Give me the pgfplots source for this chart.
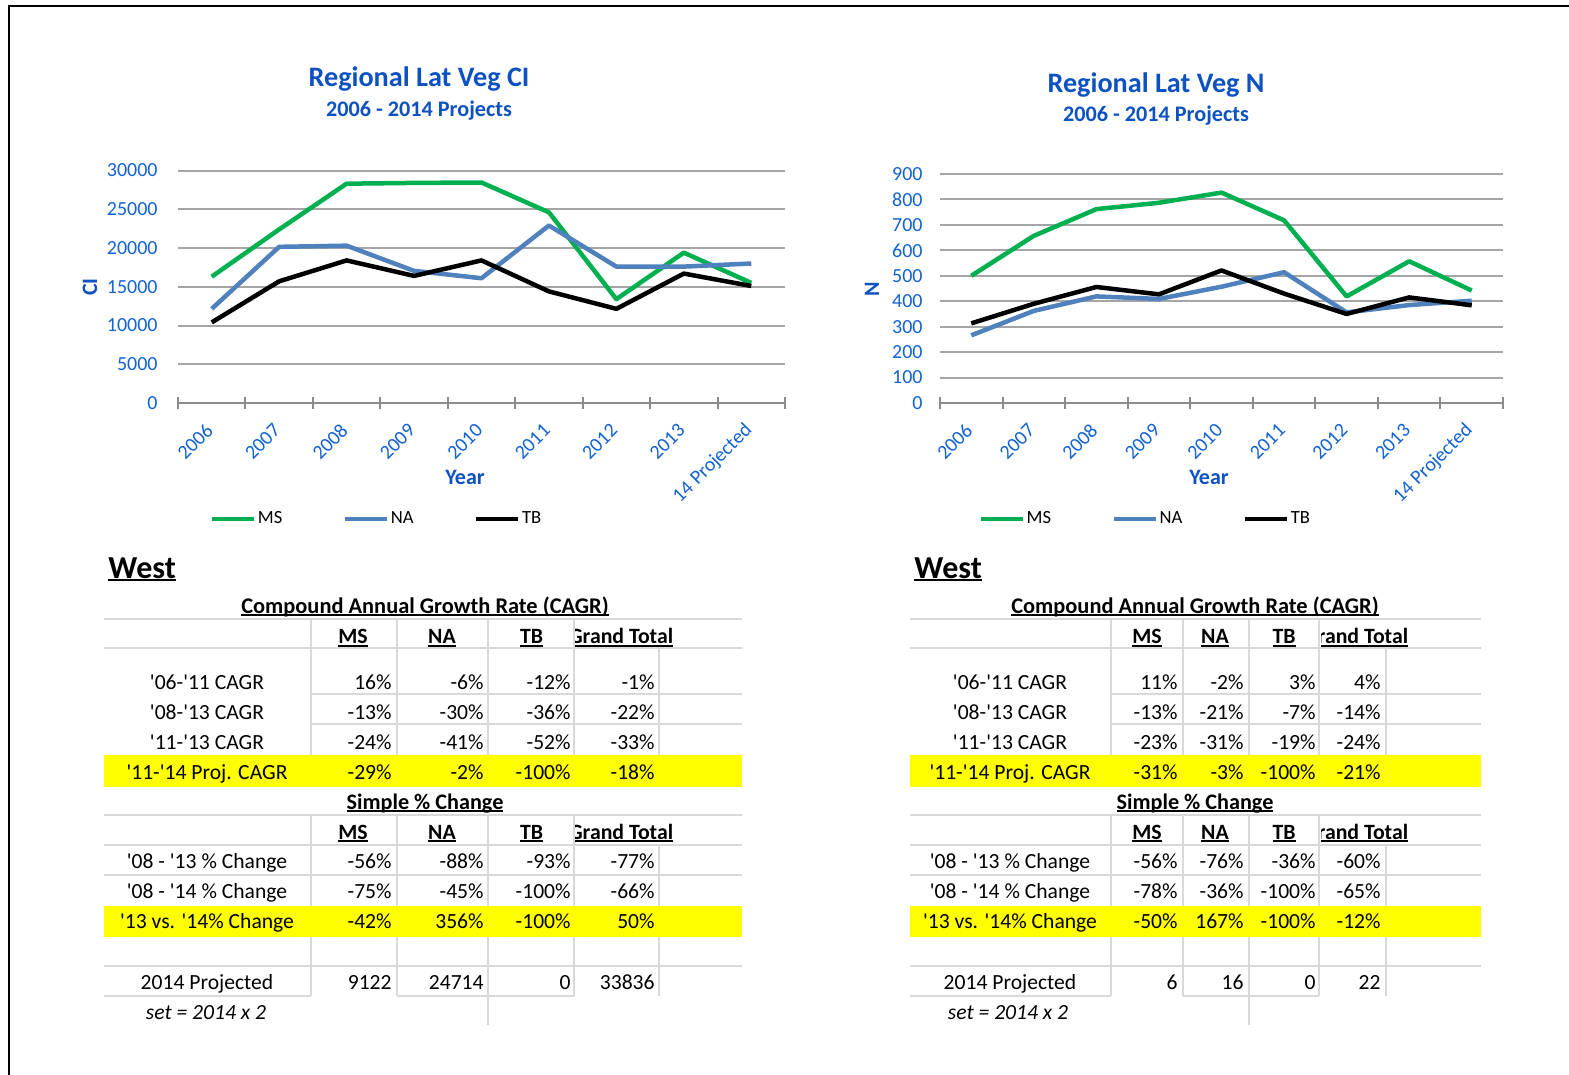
\documentclass[border=0pt]{standalone}
\usepackage{fontspec}
\setmainfont{Carlito}
\usepackage{pgfplots}
\pgfplotsset{compat=1.18}
\definecolor{msgreen}{HTML}{00B050}
\definecolor{nablue}{HTML}{4F81BD}
\definecolor{titleblue}{HTML}{0E52C1}
\definecolor{tickblue}{HTML}{1363D3}
\definecolor{gridgray}{HTML}{A5A5A5}
\definecolor{axgray}{HTML}{8C8C8C}
\definecolor{tblgray}{HTML}{D9D9D9}
\definecolor{hiyellow}{HTML}{FFFF00}

\newcommand\fs[1]{\fontsize{#1}{14}\selectfont}
\newcommand\ul[1]{\setbox0\hbox{#1}\rlap{\rule[-1.6pt]{\wd0}{0.9pt}}\box0}
\newcommand\q{\textquotesingle}

\pgfplotsset{
 chart/.style={
  scale only axis, anchor=south west,
  xmin=-0.5, xmax=8.5, ymin=0,
  axis x line*=bottom, axis y line*=left,
  y axis line style={draw=none},
  x axis line style={-, draw=axgray, line width=1pt},
  ymajorgrids, grid style={draw=gridgray, line width=1pt},
  ytick style={draw=none},
  scaled y ticks=false,
  xtick={0,...,8},
  xticklabels={2006,2007,2008,2009,2010,2011,2012,2013,14 Projected},
  xtick style={draw=axgray, line width=1pt},
  xtick align=center,
  major tick length=0pt,
  extra x ticks={-0.5,0.5,...,8.5},
  extra x tick labels={},
  extra x tick style={major tick length=6pt, xtick align=center},
  tick pos=left,
  /pgf/number format/assume math mode=true,
  /pgf/number format/1000 sep={},
  yticklabel style={font=\fs{10}, text=tickblue, anchor=east, inner sep=0pt},
  xticklabel style={font=\fs{10}, text=tickblue, inner sep=0pt, xshift=-1pt, yshift=-12pt, rotate=45, anchor=east},
  legend columns=3,
  legend style={draw=none, fill=none, inner sep=0pt, font=\fs{9.3}, nodes={inner sep=0.75pt},
    /tikz/every even column/.append style={column sep=29.5pt}},
  legend image code/.code={\draw[##1, line cap=butt] (0pt,0pt) -- (21pt,0pt);},
  every axis plot/.append style={line width=2.25pt, line join=round},
  clip=false,
 }
}

% table helpers
\newcommand\row[6]{%
 \node[anchor=base] at (\LC,#1) {#2};
 \node[anchor=base east] at (\RA,#1) {#3};
 \node[anchor=base east] at (\RB,#1) {#4};
 \node[anchor=base east] at (\RC,#1) {#5};
 \node[anchor=base east] at (\RD,#1) {#6};
}
\newcommand\tablegrid{%
 \fill[hiyellow] (\XA,755) rectangle (\XB,786.5);
 \fill[hiyellow] (\XA,905.5) rectangle (\XB,936.5);
 \begin{scope}[draw=tblgray, line width=1.25pt]
  \foreach \yy in {619,648,815,845,875,966} {\draw (\XA,\yy) -- (\XB,\yy);}
  \draw (\VA,694) -- (\XB,694);
  \draw (\VA,724) -- (\XB,724);
  \draw (\XA,996) -- (\VA,996);
  \draw (\VB,996) -- (\VD,996);
  \foreach \xx in {\VA,\VB,\VC,\VD} {\draw (\xx,619) -- (\xx,648); \draw (\xx,815) -- (\xx,845);}
  \foreach \xx in {\VA,\VB,\VC,\VD,\VE} {\draw (\xx,648) -- (\xx,755); \draw (\xx,845) -- (\xx,905.5); \draw (\xx,936.5) -- (\xx,996);}
  \draw (\VC,996) -- (\VC,1025);
 \end{scope}
 \begin{scope}[every node/.style={inner sep=0pt, font=\fs{10.8}}]
  \node[anchor=base west, font=\bfseries\fs{16}] at (\WX,578) {\ul{West}};
  \node[anchor=base, font=\bfseries\fs{11.2}] at (\TC,613) {\ul{Compound Annual Growth Rate (CAGR)}};
  \node[anchor=base, font=\bfseries\fs{11.1}] at (\TC,809) {\ul{Simple \% Change}};
  \foreach \yy/\cy in {643.5/620, 839/816} {
   \node[anchor=base, font=\bfseries\fs{10.9}] at (\HA,\yy) {\ul{MS}};
   \node[anchor=base, font=\bfseries\fs{10.9}] at (\HB,\yy) {\ul{NA}};
   \node[anchor=base, font=\bfseries\fs{10.9}] at (\HC,\yy) {\ul{TB}};
   \begin{scope}
    \clip (\CL,\cy) rectangle (\XB,\cy+28);
    \node[anchor=base, font=\bfseries\fs{10.9}] at (\HD,\yy) {\ul{Grand Total}};
   \end{scope}
  }
 \end{scope}
}

\begin{document}
\begin{tikzpicture}[x=0.5pt, y=-0.5pt]
\fill[white] (0,0) rectangle (1569,1075);
\draw[line width=1pt, line join=miter] (9,1075) -- (9,6) -- (1569,6);

\coordinate (LA) at (178,403);
\coordinate (RA) at (940,403);

% ---------- left chart ----------
\begin{axis}[chart, at={(LA)}, width=303.5pt, height=116.25pt,
  ymax=30000, ytick={0,5000,...,30000},
  yticklabel style={xshift=-10pt},
  legend style={at={(0.052,-0.499)}, anchor=west}]
\addplot[msgreen] coordinates {(0,16300) (1,22400) (2,28300) (3,28400) (4,28450) (5,24600) (6,13400) (7,19400) (8,15500)};
\addplot[nablue] coordinates {(0,12150) (1,20150) (2,20300) (3,17050) (4,16100) (5,22900) (6,17600) (7,17600) (8,18000)};
\addplot[black] coordinates {(0,10400) (1,15700) (2,18400) (3,16400) (4,18400) (5,14400) (6,12150) (7,16700) (8,15100)};
\legend{MS,NA,TB}
\end{axis}

% ---------- right chart ----------
\begin{axis}[chart, at={(RA)}, width=281.5pt, height=114.5pt,
  ymax=900, ytick={0,100,...,900},
  yticklabel style={xshift=-8.5pt},
  legend style={at={(0.068,-0.506)}, anchor=west}]
\addplot[msgreen] coordinates {(0,500) (1,657) (2,762) (3,787) (4,827) (5,718) (6,419) (7,557) (8,442)};
\addplot[nablue] coordinates {(0,266) (1,362) (2,419) (3,409) (4,457) (5,514) (6,356) (7,385) (8,402)};
\addplot[black] coordinates {(0,313) (1,390) (2,456) (3,427) (4,521) (5,430) (6,350) (7,415) (8,384)};
\legend{MS,NA,TB}
\end{axis}

% chart titles and axis labels
\node[anchor=base, inner sep=0pt, font=\bfseries\fs{14.1}, text=titleblue] at (419,87) {Regional Lat Veg CI};
\node[anchor=base, inner sep=0pt, font=\bfseries\fs{11.1}, text=titleblue] at (419,117) {2006 - 2014 Projects};
\node[anchor=base, inner sep=0pt, font=\bfseries\fs{14.1}, text=titleblue] at (1156,93) {Regional Lat Veg N};
\node[anchor=base, inner sep=0pt, font=\bfseries\fs{11.1}, text=titleblue] at (1156,122) {2006 - 2014 Projects};
\node[inner sep=0pt, font=\bfseries\fs{11}, text=titleblue] at (465,477) {Year};
\node[inner sep=0pt, font=\bfseries\fs{11}, text=titleblue] at (1209,477) {Year};
\node[inner sep=0pt, font=\bfseries\fs{11}, text=titleblue, rotate=90] at (90,287) {CI};
\node[inner sep=0pt, font=\bfseries\fs{11}, text=titleblue, rotate=90] at (872,289) {N};

% ---------- left table ----------
\def\XA{104}\def\XB{742}\def\VA{311}\def\VB{397}\def\VC{488}\def\VD{574}\def\VE{659}
\def\LC{207}\def\RA{392}\def\RB{484}\def\RC{571}\def\RD{655}
\def\HA{353}\def\HB{442}\def\HC{531.5}\def\HD{621}\def\CL{575}
\def\TC{425}\def\WX{108}\def\SC{206}
\tablegrid
\begin{scope}[every node/.style={inner sep=0pt, font=\fs{10.8}}]
\row{689}{\q06-\q11 CAGR}{16\%}{-6\%}{-12\%}{-1\%}
\row{719}{\q08-\q13 CAGR}{-13\%}{-30\%}{-36\%}{-22\%}
\row{749}{\q11-\q13 CAGR}{-24\%}{-41\%}{-52\%}{-33\%}
\row{779}{\q11-\q14 Proj. CAGR}{-29\%}{-2\%}{-100\%}{-18\%}
\row{868}{\q08 - \q13 \% Change}{-56\%}{-88\%}{-93\%}{-77\%}
\row{898}{\q08 - \q14 \% Change}{-75\%}{-45\%}{-100\%}{-66\%}
\row{928}{\q13 vs. \q14\% Change}{-42\%}{356\%}{-100\%}{50\%}
\row{989}{2014 Projected}{9122}{24714}{0}{33836}
\node[anchor=base, font=\itshape\fs{10.8}] at (\SC,1019) {set = 2014 x 2};
\end{scope}

% ---------- right table ----------
\def\XA{910}\def\XB{1481}\def\VA{1111}\def\VB{1183}\def\VC{1249}\def\VD{1319}\def\VE{1386}
\def\LC{1010}\def\RA{1178}\def\RB{1244}\def\RC{1316}\def\RD{1381}
\def\HA{1147}\def\HB{1215}\def\HC{1284}\def\HD{1356}\def\CL{1321}
\def\TC{1195}\def\WX{914}\def\SC{1008}
\tablegrid
\begin{scope}[every node/.style={inner sep=0pt, font=\fs{10.8}}]
\row{689}{\q06-\q11 CAGR}{11\%}{-2\%}{3\%}{4\%}
\row{719}{\q08-\q13 CAGR}{-13\%}{-21\%}{-7\%}{-14\%}
\row{749}{\q11-\q13 CAGR}{-23\%}{-31\%}{-19\%}{-24\%}
\row{779}{\q11-\q14 Proj. CAGR}{-31\%}{-3\%}{-100\%}{-21\%}
\row{868}{\q08 - \q13 \% Change}{-56\%}{-76\%}{-36\%}{-60\%}
\row{898}{\q08 - \q14 \% Change}{-78\%}{-36\%}{-100\%}{-65\%}
\row{928}{\q13 vs. \q14\% Change}{-50\%}{167\%}{-100\%}{-12\%}
\row{989}{2014 Projected}{6}{16}{0}{22}
\node[anchor=base, font=\itshape\fs{10.8}] at (\SC,1019) {set = 2014 x 2};
\end{scope}

\pgfresetboundingbox
\path (0,0) rectangle (1569,1075);
\end{tikzpicture}
\end{document}
